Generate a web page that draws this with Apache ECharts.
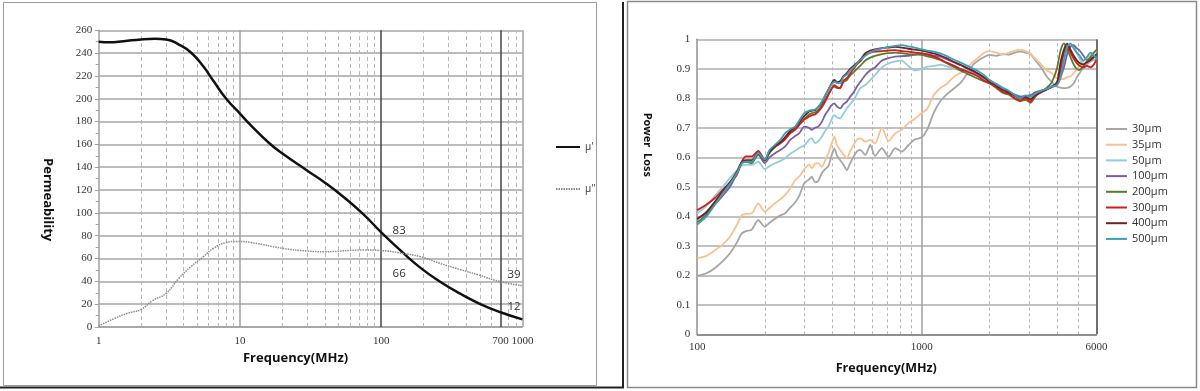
<!DOCTYPE html>
<html>
<head>
<meta charset="utf-8">
<script src="https://cdn.jsdelivr.net/npm/echarts@6/dist/echarts.min.js"></script>
<style>
html,body{margin:0;padding:0;background:#fff;}
#chart{width:1200px;height:391px;}
</style>
</head>
<body>
<div id="chart"></div>
<script>
// ---------- Left chart: permeability ----------
const freqReal = [1,1.2,1.5,2,2.5,3,3.7,4.5,5.5,6.5,8,10,12,16,20,30,40,55,75,100,140,190,260,360,490,700,1000];
const muReal   = [250,249.5,250.5,252,252.5,252,247.5,240.5,228.5,215.5,200,187,176.5,161.5,152,137,126.5,113.3,98.7,83,66,51.8,39.9,29.4,20.8,12.9,6.7];
const freqImag = [1,1.3,1.6,2,2.4,3,3.7,4.5,5.5,6.5,8,9.4,12,20,30,40,75,100,140,190,260,360,490,700,1000];
const muImag   = [0.9,7.6,12,15.5,23,29.5,42.7,52.9,61.6,69,74,75,74,69,66.6,66,67.5,67,64.6,61.6,55.8,50.5,45.6,39.7,36.2];
const annotFreq = [100, 700];
const annotReal = [83, 12];
const annotImag = [66, 39];
const leftMinorLines = [2,3,4,5,6,7,8,9,20,30,40,50,60,70,80,90,200,300,400,500,600,800,900];

// ---------- Right chart: power loss ----------
const freqR = [100,110,120,130,140,150,158,165,175,187,
  200,210,222,235,246,260,273,285,300,315,
  324,335,346,359,372,384,395,408,420,433,
  448,464,480,497,515,532,561,590,620,665,
  712,762,815,870,930,1000,1060,1130,1210,1300,
  1400,1500,1600,1700,1800,1900,2000,2150,2300,2450,
  2600,2750,2900,3050,3200,3400,3600,3800,4000,4150,
  4300,4450,4600,4750,4900,5050,5250,5450,5650,5850,6000];
const s30 = [.198,.207,.225,.248,.275,.31,.342,.35,.355,.387,
  .365,.378,.392,.403,.41,.43,.447,.47,.512,.525,
  .534,.515,.52,.546,.56,.57,.6,.63,.605,.591,
  .575,.557,.58,.602,.62,.625,.608,.642,.605,.631,
  .602,.631,.619,.64,.66,.668,.695,.75,.79,.815,
  .835,.855,.885,.915,.93,.94,.947,.944,.95,.948,
  .955,.958,.955,.95,.93,.905,.875,.855,.84,.836,
  .834,.835,.84,.85,.87,.885,.905,.915,.925,.93,.935];
const s35 = [.258,.266,.285,.305,.331,.37,.404,.408,.41,.444,
  .416,.428,.444,.458,.472,.495,.523,.535,.56,.575,
  .563,.578,.58,.568,.59,.614,.64,.67,.64,.625,
  .61,.597,.62,.642,.66,.664,.653,.659,.647,.70,
  .655,.681,.693,.715,.73,.75,.765,.81,.835,.85,
  .875,.888,.905,.925,.94,.955,.96,.955,.948,.955,
  .962,.964,.96,.952,.935,.915,.895,.885,.868,.865,
  .866,.872,.875,.885,.9,.91,.925,.935,.945,.955,.96];
const s50 = [.41,.435,.47,.5,.53,.555,.572,.574,.574,.585,
  .56,.57,.58,.588,.597,.612,.622,.632,.64,.66,
  .664,.648,.655,.67,.69,.704,.725,.743,.735,.732,
  .748,.766,.78,.794,.815,.834,.845,.862,.879,.905,
  .918,.925,.928,.91,.895,.9,.907,.91,.913,.908,
  .9,.896,.896,.885,.876,.866,.857,.843,.83,.82,
  .811,.806,.804,.811,.815,.825,.832,.842,.855,.88,
  .93,.965,.98,.978,.955,.935,.915,.925,.94,.93,.925];
const s100 = [.395,.41,.44,.47,.5,.545,.58,.585,.585,.608,
  .58,.6,.614,.625,.636,.66,.672,.682,.704,.7,
  .693,.7,.704,.72,.745,.76,.775,.783,.772,.766,
  .78,.789,.805,.82,.84,.855,.879,.895,.905,.928,
  .936,.941,.943,.944,.948,.952,.95,.945,.941,.932,
  .922,.912,.9,.89,.88,.87,.862,.848,.835,.822,
  .813,.806,.808,.811,.82,.826,.83,.838,.845,.87,
  .905,.95,.975,.98,.97,.962,.945,.93,.935,.94,.94];
const s200 = [.38,.405,.445,.48,.51,.545,.58,.585,.58,.612,
  .588,.615,.635,.648,.665,.685,.698,.715,.73,.745,
  .75,.752,.76,.775,.795,.815,.83,.84,.835,.836,
  .855,.862,.878,.888,.9,.91,.928,.938,.944,.95,
  .953,.955,.953,.95,.948,.947,.942,.937,.93,.918,
  .905,.893,.883,.873,.865,.857,.851,.835,.818,.812,
  .798,.79,.795,.785,.805,.823,.835,.855,.9,.96,
  .986,.965,.94,.915,.9,.896,.91,.925,.94,.955,.964];
const s300 = [.421,.44,.462,.49,.515,.54,.585,.603,.603,.622,
  .592,.622,.636,.648,.66,.682,.693,.71,.728,.738,
  .743,.745,.755,.77,.79,.811,.83,.845,.838,.834,
  .86,.868,.884,.9,.915,.925,.947,.955,.958,.96,
  .962,.963,.96,.958,.955,.952,.948,.942,.932,.92,
  .91,.898,.89,.882,.872,.86,.852,.838,.822,.815,
  .8,.793,.8,.79,.808,.82,.83,.84,.852,.895,
  .955,.975,.955,.935,.92,.91,.905,.91,.905,.915,.93];
const s400 = [.39,.415,.45,.485,.515,.55,.585,.59,.59,.615,
  .59,.618,.638,.652,.668,.69,.702,.72,.74,.755,
  .758,.76,.77,.785,.81,.83,.848,.862,.855,.858,
  .875,.885,.9,.91,.92,.93,.953,.962,.966,.97,
  .972,.974,.972,.968,.965,.962,.957,.952,.945,.935,
  .922,.912,.902,.893,.882,.87,.857,.843,.828,.82,
  .808,.8,.805,.797,.81,.822,.83,.84,.851,.92,
  .965,.985,.965,.945,.93,.92,.915,.922,.93,.94,.95];
const s500 = [.372,.4,.44,.478,.51,.545,.58,.585,.585,.615,
  .592,.625,.642,.66,.681,.695,.704,.725,.75,.758,
  .76,.762,.77,.789,.81,.828,.845,.856,.852,.851,
  .872,.88,.895,.905,.918,.93,.944,.955,.963,.969,
  .974,.978,.98,.976,.972,.966,.962,.958,.952,.942,
  .93,.92,.91,.9,.89,.878,.862,.848,.835,.825,
  .81,.8,.81,.805,.815,.825,.832,.84,.845,.87,
  .93,.975,.986,.97,.955,.945,.928,.94,.955,.945,.936];
const seriesNamesR = ['30μm','35μm','50μm','100μm','200μm','300μm','400μm','500μm'];
const seriesValuesR = [s30,s35,s50,s100,s200,s300,s400,s500];
const seriesColorsR = ['#a6a6a6','#fac090','#92cddc','#7a5fa0','#5a7a2e','#d41c1c','#6e2222','#3aa0b8'];
const rightMinorLines = [200,300,400,500,600,700,800,900,2000,3000,4000,5000];

function zip(xs, ys){ const n=Math.min(xs.length, ys.length); const out=[]; for(let i=0;i<n;i++) out.push([xs[i], ys[i]]); return out; }

const serif = 'Liberation Serif';
const sans = 'Open Sans';

const leftMarkLines = leftMinorLines.map(v => ({xAxis: v, lineStyle:{type:[4,3], color:'#b8b8b8', width:1}}))
  .concat([
    {xAxis: 10, lineStyle:{type:'solid', color:'#a0a0a0', width:1.5}},
    {xAxis: 100, lineStyle:{type:'solid', color:'#454545', width:1.5}},
    {xAxis: 700, lineStyle:{type:'solid', color:'#454545', width:1.5},
      label:{show:true, position:'start', formatter:'700', distance:9, color:'#333', fontFamily:serif, fontSize:11}},
    {xAxis: 1000, lineStyle:{type:'solid', color:'#a0a0a0', width:1.5}}
  ]);

const rightMarkLines = rightMinorLines.map(v => ({xAxis: v, lineStyle:{type:[3,3], color:'#b5b5b5', width:1}}))
  .concat([
    {xAxis: 1000, lineStyle:{type:'solid', color:'#a0a0a0', width:1.5}},
    {xAxis: 6000, lineStyle:{type:'solid', color:'#707070', width:2}}
  ]);

const chart = echarts.init(document.getElementById('chart'), null, {renderer:'canvas'});

const seriesR = seriesNamesR.map((name, i) => {
  const s = {
    name: name, type:'line', xAxisIndex:1, yAxisIndex:1,
    data: zip(freqR, seriesValuesR[i]), smooth:0.25, symbol:'none', showSymbol:false,
    lineStyle:{color:seriesColorsR[i], width:1.8}, itemStyle:{color:seriesColorsR[i]}, z:3
  };
  if (i === 0) {
    s.markLine = {silent:true, symbol:['none','none'], z:1, animation:false, label:{show:false}, data: rightMarkLines};
  }
  return s;
});

const option = {
  backgroundColor:'#fff',
  animation:false,
  graphic:[
    {type:'rect', shape:{x:3.5,y:2.5,width:593,height:383}, style:{fill:'none', stroke:'#9a9a9a', lineWidth:1}, z:-10},
    {type:'line', shape:{x1:0,y1:387.5,x2:624,y2:387.5}, style:{stroke:'#222', lineWidth:2}, z:-10},
    {type:'line', shape:{x1:623,y1:2,x2:623,y2:388}, style:{stroke:'#222', lineWidth:2}, z:-10},
    {type:'rect', shape:{x:627.5,y:1.5,width:569,height:386}, style:{fill:'none', stroke:'#8a8a8a', lineWidth:1.5}, z:-10}
  ],
  grid:[
    {left:98.7, top:30.3, width:423.7, height:296.7},
    {left:697.2, top:39.3, width:399.2, height:295}
  ],
  legend:[
    {orient:'vertical', left:550, top:137, itemWidth:24, itemHeight:10, itemGap:32,
      itemStyle:{opacity:0},
      data:["μ'","μ''"], textStyle:{fontFamily:sans, fontSize:10, color:'#333'}},
    {orient:'vertical', left:1100, top:118.5, itemWidth:21, itemHeight:10, itemGap:4.7,
      itemStyle:{opacity:0},
      data:seriesNamesR, textStyle:{fontFamily:sans, fontSize:11, color:'#333'}}
  ],
  xAxis:[
    {type:'log', logBase:10, gridIndex:0, min:1, max:1000,
      name:'Frequency(MHz)', nameLocation:'middle', nameGap:25,
      nameTextStyle:{fontFamily:sans, fontWeight:'bold', fontSize:13, color:'#111', padding:[0,30,0,0]},
      axisLine:{show:true, lineStyle:{color:'#a0a0a0', width:1.5}},
      axisTick:{show:false}, splitLine:{show:false},
      axisLabel:{fontFamily:serif, fontSize:11, color:'#333', margin:9, formatter: v => String(Math.round(v))}},
    {type:'log', logBase:10, gridIndex:1, min:100, max:6000,
      name:'Frequency(MHz)', nameLocation:'middle', nameGap:28,
      nameTextStyle:{fontFamily:sans, fontWeight:'bold', fontSize:12.5, color:'#111', padding:[0,21,0,0]},
      axisLine:{show:true, lineStyle:{color:'#808080', width:1.5}},
      axisTick:{show:false}, splitLine:{show:false},
      axisLabel:{fontFamily:serif, fontSize:11, color:'#333', margin:7, formatter: v => String(Math.round(v))}}
  ],
  yAxis:[
    {type:'value', gridIndex:0, min:0, max:260, interval:20,
      name:'Permeability', nameLocation:'middle', nameGap:44, nameRotate:-90,
      nameTextStyle:{fontFamily:sans, fontWeight:'bold', fontSize:13, color:'#111', padding:[0,0,0,42]},
      axisLine:{show:true, lineStyle:{color:'#a0a0a0', width:1.5}},
      axisTick:{show:true, length:4, lineStyle:{color:'#a0a0a0'}},
      minorTick:{show:true, splitNumber:2, length:3, lineStyle:{color:'#a0a0a0'}},
      splitLine:{show:true, lineStyle:{color:'#a6a6a6', width:1.5}},
      axisLabel:{fontFamily:serif, fontSize:11, color:'#333', margin:6.5}},
    {type:'value', gridIndex:1, min:0, max:1, interval:0.1,
      name:'Power  Loss', nameLocation:'middle', nameGap:45, nameRotate:-90,
      nameTextStyle:{fontFamily:sans, fontWeight:'bold', fontSize:11, color:'#111', padding:[0,84,0,0]},
      axisLine:{show:true, lineStyle:{color:'#909090', width:1.5}},
      axisTick:{show:false},
      splitLine:{show:true, lineStyle:{color:'#adadad', width:1.5}},
      axisLabel:{fontFamily:serif, fontSize:11, color:'#333', margin:7}}
  ],
  series:[
    {name:"μ'", type:'line', xAxisIndex:0, yAxisIndex:0, data:zip(freqReal, muReal), smooth:true,
      symbol:'none', showSymbol:false, lineStyle:{color:'#111', width:2.5}, itemStyle:{color:'#111'}, z:3,
      markPoint:{symbol:'circle', symbolSize:1, itemStyle:{color:'transparent'}, silent:true,
        label:{show:true, position:'inside', color:'#333', fontFamily:sans, fontSize:11.5},
        data:[
          {coord:[annotFreq[0], annotReal[0]], value:annotReal[0], label:{offset:[18,-2]}},
          {coord:[annotFreq[1], annotReal[1]], value:annotReal[1], label:{offset:[13.5,-7]}}
        ]}},
    {name:"μ''", type:'line', xAxisIndex:0, yAxisIndex:0, data:zip(freqImag, muImag), smooth:true,
      symbol:'none', showSymbol:false, lineStyle:{color:'#8a8a8a', width:1.5, type:[1.5,1]}, itemStyle:{color:'#8a8a8a'}, z:3,
      markPoint:{symbol:'circle', symbolSize:1, itemStyle:{color:'transparent'}, silent:true,
        label:{show:true, position:'inside', color:'#333', fontFamily:sans, fontSize:11.5},
        data:[
          {coord:[annotFreq[0], annotImag[0]], value:annotImag[0], label:{offset:[18,22]}},
          {coord:[annotFreq[1], annotImag[1]], value:annotImag[1], label:{offset:[13.5,-7.5]}}
        ]},
      markLine:{silent:true, symbol:['none','none'], z:1, animation:false, label:{show:false}, data:leftMarkLines}}
  ].concat(seriesR)
};
chart.setOption(option);
</script>
</body>
</html>
